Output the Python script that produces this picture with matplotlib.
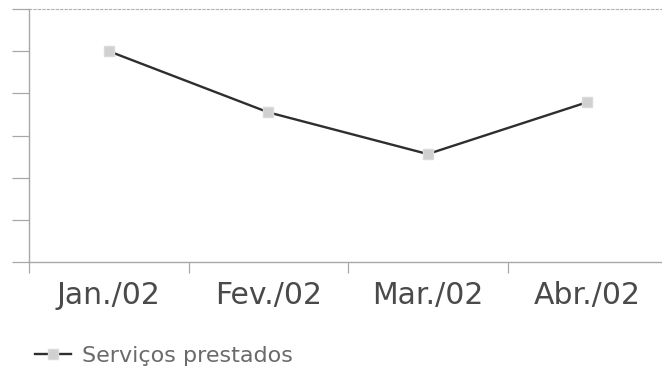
import numpy as np
import matplotlib
matplotlib.use("Agg")
import matplotlib.pyplot as plt

# dados (escala sem rótulos, 0..6)
meses = ["Jan./02", "Fev./02", "Mar./02", "Abr./02"]
servicos = [5.0, 3.55, 2.56, 3.79]
serie_nome = "Serviços prestados"

plt.rcParams['font.family'] = ['DejaVu Sans']

fig = plt.figure(figsize=(6.62, 3.69), dpi=100)
ax = fig.add_axes([29 / 662, 1 - 262 / 369, 638 / 662, 253 / 369])

x = np.arange(len(meses))
ax.plot(x, servicos, color='#2e2e2e', linewidth=1.7, marker='s',
        markersize=6.5, markerfacecolor='#d0d0d0', markeredgecolor='#dadada',
        label=serie_nome, zorder=3)

ax.set_xlim(-0.5, len(meses) - 0.5)
ax.set_ylim(0, 6)

# eixos
ax.spines['right'].set_visible(False)
ax.spines['top'].set_color('#b0b0b0')
ax.spines['top'].set_linestyle((0, (2, 2)))
ax.spines['top'].set_linewidth(0.8)
for s in ['left', 'bottom']:
    ax.spines[s].set_color('#a8a8a8')
    ax.spines[s].set_linewidth(1.0)

ax.set_yticks(np.arange(0, 7))
ax.set_yticklabels([])
ax.tick_params(axis='y', length=12, width=0.9, color='#a8a8a8', direction='out')

ax.set_xticks(x)
ax.set_xticklabels(meses, fontsize=21.5, color='#4a4a4a')
ax.set_xticks(np.arange(-0.5, len(meses)), minor=True)
ax.tick_params(axis='x', which='major', length=0, pad=14)
ax.tick_params(axis='x', which='minor', length=8, width=0.9, color='#a8a8a8', direction='out')

fig.legend(loc='center left', bbox_to_anchor=(0.04, 1 - 356 / 369),
           frameon=False, fontsize=16, handlelength=1.6, handletextpad=0.5,
           labelcolor='#6a6a6a', borderaxespad=0)

fig.savefig("out.png", dpi=100)
